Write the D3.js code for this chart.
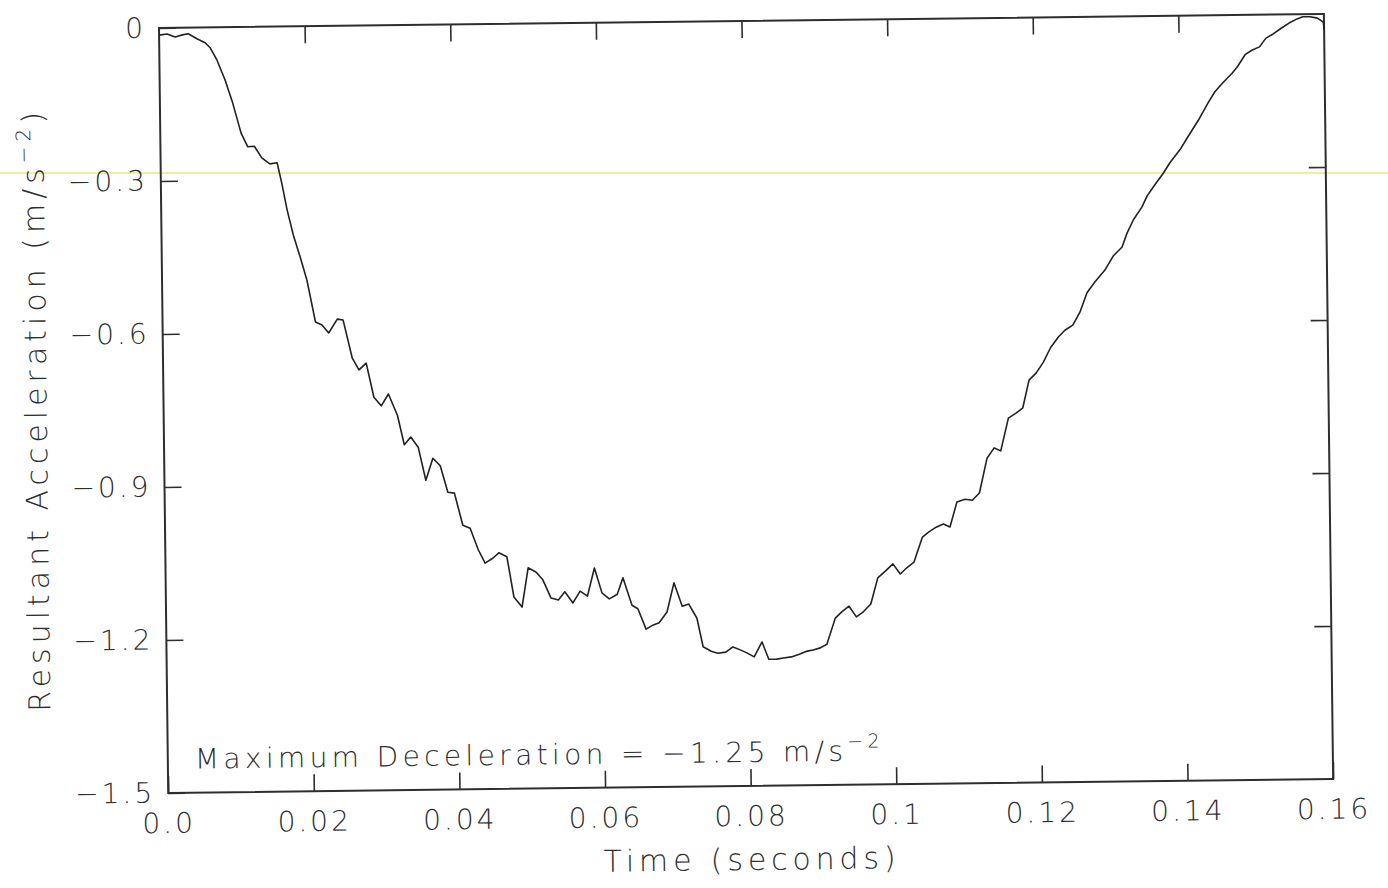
<!DOCTYPE html>
<html lang="en">
<head>
<meta charset="utf-8">
<title>Resultant Acceleration</title>
<style>
  body { margin: 0; background: #fff; }
  svg text { font-family: "DejaVu Sans", sans-serif; font-weight: 200; fill: #2e2e2e; }
</style>
</head>
<body>
<svg id="chart" width="1388" height="888"></svg>
<script src="https://d3js.org/d3.v7.min.js"></script>
<script>
// time (s)
const time = [
  0.0000, 0.0011, 0.0022, 0.0032, 0.0040, 0.0052, 0.0063, 0.0070, 0.0079, 0.0090,
  0.0100, 0.0111, 0.0120, 0.0129, 0.0139, 0.0150, 0.0160, 0.0166, 0.0173, 0.0181,
  0.0190, 0.0199, 0.0210, 0.0219, 0.0228, 0.0240, 0.0248, 0.0260, 0.0269, 0.0279,
  0.0289, 0.0299, 0.0309, 0.0321, 0.0330, 0.0339, 0.0349, 0.0359, 0.0369, 0.0379,
  0.0389, 0.0398, 0.0409, 0.0419, 0.0430, 0.0439, 0.0450, 0.0458, 0.0469, 0.0478,
  0.0489, 0.0498, 0.0509, 0.0518, 0.0529, 0.0539, 0.0548, 0.0559, 0.0569, 0.0579,
  0.0589, 0.0599, 0.0609, 0.0620, 0.0628, 0.0640, 0.0648, 0.0659, 0.0669, 0.0677,
  0.0688, 0.0698, 0.0709, 0.0718, 0.0729, 0.0737, 0.0748, 0.0757, 0.0768, 0.0778,
  0.0788, 0.0797, 0.0807, 0.0818, 0.0827, 0.0838, 0.0847, 0.0858, 0.0869, 0.0880,
  0.0888, 0.0898, 0.0907, 0.0919, 0.0928, 0.0938, 0.0948, 0.0957, 0.0968, 0.0978,
  0.0990, 0.0999, 0.1009, 0.1018, 0.1028, 0.1040, 0.1049, 0.1059, 0.1069, 0.1078,
  0.1088, 0.1099, 0.1109, 0.1119, 0.1130, 0.1140, 0.1149, 0.1160, 0.1171, 0.1180,
  0.1189, 0.1199, 0.1209, 0.1219, 0.1230, 0.1239, 0.1250, 0.1260, 0.1270, 0.1281,
  0.1295, 0.1307, 0.1319, 0.1326, 0.1335, 0.1347, 0.1354, 0.1365, 0.1377, 0.1386,
  0.1400, 0.1411, 0.1426, 0.1440, 0.1449, 0.1461, 0.1473, 0.1481, 0.1491, 0.1501,
  0.1511, 0.1520, 0.1530, 0.1542, 0.1552, 0.1563, 0.1571, 0.1581, 0.1591, 0.1599,
  0.1600
];

// resultant acceleration (m/s^-2)
const accel = [
  -0.014, -0.012, -0.018, -0.014, -0.012, -0.022, -0.030, -0.040, -0.064, -0.104,
  -0.149, -0.208, -0.235, -0.234, -0.257, -0.269, -0.267, -0.307, -0.360, -0.409,
  -0.452, -0.498, -0.580, -0.586, -0.602, -0.575, -0.577, -0.652, -0.675, -0.662,
  -0.729, -0.746, -0.723, -0.765, -0.823, -0.808, -0.828, -0.893, -0.850, -0.865,
  -0.917, -0.919, -0.982, -0.988, -1.031, -1.057, -1.047, -1.037, -1.045, -1.124,
  -1.144, -1.067, -1.076, -1.091, -1.127, -1.131, -1.115, -1.137, -1.114, -1.124,
  -1.069, -1.118, -1.130, -1.121, -1.089, -1.143, -1.150, -1.190, -1.182, -1.178,
  -1.157, -1.100, -1.146, -1.142, -1.170, -1.226, -1.235, -1.239, -1.237, -1.227,
  -1.233, -1.239, -1.247, -1.218, -1.252, -1.252, -1.250, -1.248, -1.243, -1.237,
  -1.235, -1.231, -1.224, -1.173, -1.161, -1.150, -1.171, -1.162, -1.146, -1.095,
  -1.080, -1.068, -1.088, -1.076, -1.065, -1.016, -1.006, -0.997, -0.991, -0.997,
  -0.948, -0.943, -0.945, -0.931, -0.863, -0.843, -0.849, -0.785, -0.775, -0.765,
  -0.711, -0.697, -0.676, -0.648, -0.627, -0.614, -0.604, -0.579, -0.541, -0.520,
  -0.497, -0.469, -0.452, -0.425, -0.399, -0.374, -0.353, -0.331, -0.308, -0.288,
  -0.263, -0.238, -0.205, -0.170, -0.150, -0.131, -0.114, -0.100, -0.078, -0.069,
  -0.063, -0.046, -0.038, -0.026, -0.017, -0.009, -0.005, -0.005, -0.008, -0.016,
  -0.030
];

const xTicks = [0, 0.02, 0.04, 0.06, 0.08, 0.1, 0.12, 0.14, 0.16];
const xTickLabels = ["0.0", "0.02", "0.04", "0.06", "0.08", "0.1", "0.12", "0.14", "0.16"];
const yTicks = [0, -0.3, -0.6, -0.9, -1.2, -1.5];
const yTickLabels = ["0", "\u22120.3", "\u22120.6", "\u22120.9", "\u22121.2", "\u22121.5"];

const maxDecel = -1.25;

const marginLeft = 159, marginTop = 28;
const width = 1165, height = 765;
const tilt = -0.69;   // the scanned page sits slightly askew
const tick = 17;
const ink = "#2e2e2e";

const svg = d3.select("#chart");

// faint scanner streak
svg.append("line")
  .attr("x1", 0).attr("x2", 1388)
  .attr("y1", 173).attr("y2", 173)
  .attr("stroke", "#f3eaa4")
  .attr("stroke-width", 2);

const g = svg.append("g")
  .attr("transform", `translate(${marginLeft},${marginTop}) rotate(${tilt})`);

const x = d3.scaleLinear().domain([0, 0.16]).range([0, width]);
const y = d3.scaleLinear().domain([0, -1.5]).range([0, height]);

function styleAxis(sel) {
  sel.select(".domain").remove();
  sel.attr("color", ink)
    .attr("font-family", "DejaVu Sans, sans-serif")
    .attr("font-size", 28);
  sel.selectAll(".tick line").attr("stroke-width", 1.6);
  sel.selectAll(".tick text").attr("letter-spacing", 3).attr("fill", ink);
}

// bottom axis with labels
g.append("g")
  .attr("transform", `translate(0,${height})`)
  .call(d3.axisBottom(x).tickValues(xTicks)
    .tickFormat((d, i) => xTickLabels[i])
    .tickSize(-tick).tickPadding(20))
  .call(styleAxis);

// top axis, ticks only
g.append("g")
  .call(d3.axisTop(x).tickValues(xTicks.slice(1, -1))
    .tickFormat("").tickSize(-tick))
  .call(styleAxis);

// left axis with labels
g.append("g")
  .call(d3.axisLeft(y).tickValues(yTicks)
    .tickFormat((d, i) => yTickLabels[i])
    .tickSize(-tick).tickPadding(13))
  .call(styleAxis);

// right axis, ticks only
g.append("g")
  .attr("transform", `translate(${width},0)`)
  .call(d3.axisRight(y).tickValues(yTicks.slice(1, -1))
    .tickFormat("").tickSize(-tick))
  .call(styleAxis);

// frame
g.append("rect")
  .attr("width", width).attr("height", height)
  .attr("fill", "none")
  .attr("stroke", ink)
  .attr("stroke-width", 2);

// the trace
const line = d3.line()
  .x((d, i) => x(time[i]))
  .y(d => y(d));

g.append("path")
  .datum(accel)
  .attr("d", line)
  .attr("fill", "none")
  .attr("stroke", "#222")
  .attr("stroke-width", 1.6)
  .attr("stroke-linejoin", "round");

// x title
g.append("text")
  .attr("x", width / 2 - 2)
  .attr("y", height + 84)
  .attr("text-anchor", "middle")
  .attr("font-size", 30)
  .attr("textLength", 292)
  .attr("lengthAdjust", "spacing")
  .text("Time (seconds)");

// y title
const yt = g.append("text")
  .attr("transform", `translate(-117,${height / 2}) rotate(-90)`)
  .attr("text-anchor", "middle")
  .attr("font-size", 30)
  .attr("textLength", 600)
  .attr("lengthAdjust", "spacing");
yt.append("tspan").text("Resultant Acceleration (m/s");
yt.append("tspan").attr("font-size", 20).attr("dy", -13).text("\u22122");
yt.append("tspan").attr("dy", 13).text(")");

// annotation
const note = g.append("text")
  .attr("x", 27)
  .attr("y", 741)
  .attr("font-size", 28)
  .attr("textLength", 685)
  .attr("lengthAdjust", "spacing");
note.append("tspan").text(`Maximum Deceleration = \u2212${Math.abs(maxDecel).toFixed(2)} m/s`);
note.append("tspan").attr("font-size", 19).attr("dy", -13).text("\u22122");
</script>
</body>
</html>
